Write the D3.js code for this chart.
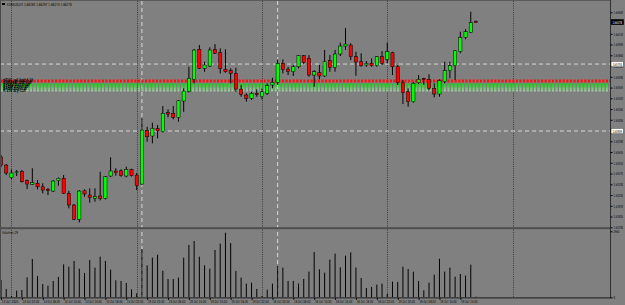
<!DOCTYPE html>
<html><head><meta charset="utf-8">
<script src="https://cdn.jsdelivr.net/npm/d3@7"></script>
<style>
body{margin:0;background:#808080;overflow:hidden}
svg{display:block}
text{font-family:"DejaVu Sans",Arial,sans-serif;fill:#000}
</style></head>
<body><svg id="c" width="625" height="305"></svg>
<script>
const symbolTitle = "EURAUD,H1";
const opens = [1.64582,1.64482,1.64325,1.64388,1.64398,1.64285,1.64240,1.64252,1.64209,1.64177,1.64155,1.64285,1.64315,1.64127,1.63980,1.63800,1.64159,1.64105,1.64064,1.64093,1.64064,1.64344,1.64407,1.64410,1.64344,1.64428,1.64356,1.64243,1.64913,1.64846,1.64938,1.64900,1.65139,1.65131,1.65081,1.65286,1.65402,1.65558,1.65935,1.65696,1.65725,1.65935,1.65892,1.65684,1.65666,1.65633,1.65436,1.65361,1.65320,1.65382,1.65340,1.65382,1.65487,1.65520,1.65759,1.65687,1.65654,1.65716,1.65855,1.65822,1.65612,1.65641,1.65600,1.65792,1.65709,1.65876,1.65976,1.65989,1.65842,1.65779,1.65738,1.65759,1.65729,1.65842,1.65809,1.65892,1.65716,1.65515,1.65402,1.65277,1.65515,1.65571,1.65558,1.65445,1.65374,1.65528,1.65666,1.65729,1.65905,1.66086,1.66148,1.66284];
const highs = [1.64608,1.64495,1.64425,1.64419,1.64419,1.64300,1.64441,1.64294,1.64252,1.64193,1.64294,1.64325,1.64356,1.64159,1.63992,1.64168,1.64177,1.64189,1.64189,1.64398,1.64344,1.64579,1.64441,1.64428,1.64461,1.64436,1.64382,1.65068,1.64963,1.65013,1.64984,1.65223,1.65181,1.65223,1.65298,1.65445,1.65716,1.65939,1.65989,1.65779,1.65960,1.66001,1.65947,1.65935,1.65696,1.65704,1.65487,1.65382,1.65402,1.65433,1.65445,1.65508,1.65578,1.65809,1.65809,1.65716,1.65738,1.65863,1.65863,1.65863,1.65675,1.65738,1.65926,1.65863,1.65926,1.66018,1.66202,1.66010,1.65905,1.65885,1.65788,1.65822,1.65851,1.65913,1.66018,1.65905,1.65738,1.65550,1.65445,1.65524,1.65612,1.65578,1.65621,1.65508,1.65558,1.65779,1.65779,1.65926,1.66156,1.66186,1.66407,1.66297];
const lows = [1.64457,1.64356,1.64306,1.64344,1.64262,1.64180,1.64231,1.64177,1.64127,1.64105,1.64143,1.64222,1.64118,1.63938,1.63791,1.63762,1.64084,1.64009,1.64021,1.64038,1.64049,1.64331,1.64348,1.64335,1.64329,1.64338,1.64168,1.64231,1.64775,1.64754,1.64817,1.64890,1.65081,1.65056,1.65026,1.65151,1.65392,1.65508,1.65687,1.65654,1.65713,1.65876,1.65633,1.65641,1.65508,1.65402,1.65340,1.65277,1.65298,1.65340,1.65307,1.65361,1.65445,1.65487,1.65633,1.65612,1.65600,1.65696,1.65747,1.65591,1.65465,1.65558,1.65587,1.65654,1.65654,1.65851,1.65926,1.65800,1.65603,1.65716,1.65716,1.65716,1.65716,1.65738,1.65759,1.65612,1.65487,1.65248,1.65214,1.65264,1.65499,1.65487,1.65424,1.65332,1.65340,1.65508,1.65571,1.65549,1.65885,1.66061,1.66140,1.66274];
const closes = [1.64482,1.64382,1.64382,1.64397,1.64272,1.64243,1.64260,1.64209,1.64168,1.64162,1.64281,1.64315,1.64127,1.63980,1.63800,1.64155,1.64118,1.64076,1.64084,1.64064,1.64335,1.64407,1.64388,1.64348,1.64428,1.64348,1.64222,1.64921,1.64837,1.64943,1.64913,1.65131,1.65122,1.65081,1.65289,1.65411,1.65571,1.65926,1.65696,1.65738,1.65926,1.65885,1.65696,1.65654,1.65633,1.65436,1.65370,1.65320,1.65382,1.65370,1.65402,1.65478,1.65520,1.65759,1.65684,1.65654,1.65716,1.65855,1.65772,1.65612,1.65654,1.65600,1.65779,1.65709,1.65876,1.65976,1.66001,1.65842,1.65775,1.65729,1.65759,1.65729,1.65842,1.65759,1.65905,1.65716,1.65520,1.65390,1.65277,1.65508,1.65558,1.65556,1.65445,1.65374,1.65541,1.65666,1.65729,1.65917,1.66081,1.66156,1.66269,1.66278];
const volumes = [754,363,58,290,319,870,1668,928,580,508,711,885,1436,1334,1581,1247,1059,1624,1291,1769,1581,1204,740,711,624,348,174,2103,1392,1726,1856,1160,798,798,856,1726,2277,2451,1769,1392,1247,2059,2335,2813,2364,1146,856,595,638,363,58,334,595,1363,1291,711,711,595,798,1117,1972,1218,1073,1639,1900,1305,1813,1958,1291,841,406,450,551,595,160,682,667,1334,1233,1117,711,305,638,986,1682,1117,1291,899,1015,943,1421,29];
const timeTickBars = [0,4,8,12,16,20,24,28,32,36,40,44,48,52,56,60,64,68,72,76,80,84,88];
const timeLabels = ["13 Oct 2020","14 Oct 02:00","14 Oct 06:00","14 Oct 10:00","14 Oct 14:00","14 Oct 18:00","14 Oct 22:00","15 Oct 02:00","15 Oct 06:00","15 Oct 10:00","15 Oct 14:00","15 Oct 18:00","15 Oct 22:00","16 Oct 02:00","16 Oct 06:00","16 Oct 10:00","16 Oct 14:00","16 Oct 18:00","16 Oct 22:00","19 Oct 02:00","19 Oct 06:00","19 Oct 10:00","19 Oct 14:00"];
const priceTicks = [1.63700,1.63835,1.63970,1.64105,1.64240,1.64375,1.64510,1.64645,1.64780,1.64915,1.65050,1.65185,1.65320,1.65455,1.65590,1.65725,1.65860,1.65995,1.66130,1.66265,1.66400];
const volumeTicks = [2960, 0];
const daySeparatorBars = [2,26,50,74,98];
const markerBars = [27,53];
const hLinePrices = [1.65750,1.64909];
const redLevels = [1.65546,1.65527];
const greenLevels = [1.65493,1.65468,1.65443,1.65418];
const levelNames = ["#7101 sell limit 0.10","#7102 sell limit 0.10","#7103 buy 0.10","#7104 buy 0.10","#7105 buy 0.10","#7106 buy 0.10"];
const volumeTitle = "Volumes 29";

const svg = d3.select("#c");
const W = 625, H = 305, AX = 610;
const idx = d3.range(opens.length);
const x = d3.scaleLinear().domain([0, 91]).range([1, 476]);
const y = d3.scaleLinear().domain([1.637, 1.664]).range([227.3, 12.3]);
const yv = d3.scaleLinear().domain([0, 2960]).range([297.3, 229.3]);
const f5 = d3.format(".5f");

// squeeze text horizontally to a target width (small, condensed chart-terminal text)
function fit(sel, target) {
  sel.each(function(d, i) {
    const w = this.getComputedTextLength();
    const t = typeof target === "function" ? target(d, i) : target;
    if (!w) return;
    const s = t / w;
    const x0 = +this.getAttribute("x") || 0;
    this.setAttribute("x", x0 / s);
    this.setAttribute("transform", `scale(${s},1)`);
  });
}

svg.append("rect").attr("width", W).attr("height", H).attr("fill", "#808080");

svg.append("g").selectAll("line").data(daySeparatorBars).join("line")
  .attr("x1", d => Math.round(x(d)) + 0.5).attr("x2", d => Math.round(x(d)) + 0.5)
  .attr("y1", 1).attr("y2", 297).attr("stroke", "#3a3a3a").attr("stroke-width", 1)
  .attr("stroke-dasharray", "1,1.2");

svg.append("g").selectAll("line").data(markerBars).join("line")
  .attr("x1", d => x(d)).attr("x2", d => x(d))
  .attr("y1", 1).attr("y2", 297).attr("stroke", "#d8d8d8").attr("stroke-width", 1)
  .attr("stroke-dasharray", "4,3");

svg.append("g").selectAll("line").data(hLinePrices).join("line")
  .attr("x1", 0).attr("x2", AX).attr("y1", d => y(d)).attr("y2", d => y(d))
  .attr("stroke", "#d8d8d8").attr("stroke-width", 1).attr("stroke-dasharray", "4,3");

svg.append("g").selectAll("line").data(redLevels).join("line")
  .attr("x1", 1).attr("x2", AX).attr("y1", d => y(d)).attr("y2", d => y(d))
  .attr("stroke", "#ff1010").attr("stroke-width", 1.4).attr("stroke-dasharray", "2.2,1.4");
const gCols = ["#10e010", "#30dd30", "#70d070", "#98cc98"];
svg.append("g").selectAll("line").data(greenLevels).join("line")
  .attr("x1", 1).attr("x2", AX).attr("y1", d => y(d)).attr("y2", d => y(d))
  .attr("stroke", (d, i) => gCols[i]).attr("stroke-width", 2.2).attr("stroke-dasharray", "2.2,1.4");

const cg = svg.append("g");
cg.selectAll("line").data(idx).join("line")
  .attr("x1", i => x(i)).attr("x2", i => x(i))
  .attr("y1", i => y(highs[i])).attr("y2", i => y(lows[i]))
  .attr("stroke", "#000").attr("stroke-width", 1);
cg.selectAll("rect").data(idx).join("rect")
  .attr("x", i => x(i) - 1.6).attr("width", 3.2)
  .attr("y", i => y(Math.max(opens[i], closes[i])))
  .attr("height", i => Math.max(0.8, Math.abs(y(opens[i]) - y(closes[i]))))
  .attr("fill", i => closes[i] >= opens[i] ? "#00ff00" : "#ff0000")
  .attr("stroke", "#000").attr("stroke-width", 0.5);

// order-level labels: piled up at the left edge as in the terminal screenshot
const lvl = svg.append("g").selectAll("text").data(levelNames).join("text")
  .attr("x", 3).attr("y", (d, i) => y(redLevels.concat(greenLevels)[i]) + 1.8)
  .attr("font-size", 5).attr("font-weight", "bold").text(d => d);
fit(lvl, (d, i) => 30 - i * 1.5);

svg.append("g").selectAll("line").data(idx).join("line")
  .attr("x1", i => x(i)).attr("x2", i => x(i))
  .attr("y1", yv(0)).attr("y2", i => yv(volumes[i]))
  .attr("stroke", "#000").attr("stroke-width", 1);

svg.append("line").attr("x1", 0.5).attr("x2", 0.5).attr("y1", 0).attr("y2", 298).attr("stroke", "#4a4a4a");
svg.append("line").attr("x1", 0).attr("x2", AX).attr("y1", 0.5).attr("y2", 0.5).attr("stroke", "#5a5a5a");
svg.append("rect").attr("x", 0).attr("y", 227.2).attr("width", AX).attr("height", 2).attr("fill", "#4e4e4e");
svg.append("line").attr("x1", 0).attr("x2", AX + 1).attr("y1", 297.8).attr("y2", 297.8).attr("stroke", "#2e2e2e").attr("stroke-width", 1.2);

const pa = svg.append("g").attr("transform", `translate(${AX + 0.5},0)`)
  .call(d3.axisRight(y).tickValues(priceTicks).tickSize(2).tickPadding(1).tickFormat(f5));
pa.select(".domain").attr("stroke", "#2e2e2e").attr("d", "M0,0V298");
pa.selectAll(".tick line").attr("stroke", "#000");
pa.selectAll("text").attr("font-size", 4.1).attr("fill", "#000");
fit(pa.selectAll("text"), 9.6);

const va = svg.append("g").attr("transform", `translate(${AX + 0.5},0)`)
  .call(d3.axisRight(yv).tickValues(volumeTicks).tickSize(2).tickPadding(1).tickFormat(d3.format("d")));
va.select(".domain").remove();
va.selectAll("text").attr("font-size", 4.1).attr("fill", "#000");
fit(va.selectAll("text"), d => d === 0 ? 1.6 : 6);
va.selectAll(".tick").filter(d => d === 2960).attr("transform", `translate(0,${yv(2960) + 2.5})`);

const hl = svg.append("g").selectAll("g").data(hLinePrices).join("g")
  .attr("transform", d => `translate(${AX + 1},${y(d)})`);
hl.append("rect").attr("x", 0).attr("y", -2.8).attr("width", 12.6).attr("height", 5.6).attr("fill", "#fff").attr("stroke", "#000").attr("stroke-width", 0.4);
const hlt = hl.append("text").attr("x", 1.4).attr("y", 1.5).attr("font-size", 4.1).text(d => f5(d));
fit(hlt, 9.6);

const last = closes[closes.length - 1];
const cp = svg.append("g").attr("transform", `translate(${AX + 1},${y(last)})`);
cp.append("rect").attr("x", 0).attr("y", -2.8).attr("width", 12.8).attr("height", 5.6).attr("fill", "#000");
const cpt = cp.append("text").attr("x", 1.4).attr("y", 1.5).attr("font-size", 4.1).style("fill", "#fff").text(f5(last));
fit(cpt, 9.6);

const ta = svg.append("g").attr("transform", "translate(0,297.8)")
  .call(d3.axisBottom(x).tickValues(timeTickBars).tickSize(2).tickFormat((d, i) => timeLabels[i]));
ta.select(".domain").remove();
ta.selectAll(".tick line").attr("stroke", "#000");
ta.selectAll("text").attr("text-anchor", "start").attr("x", 0.3).attr("y", 2.2).attr("dy", "0.71em")
  .attr("font-size", 4).attr("fill", "#000");
fit(ta.selectAll("text"), 16.5);

const li = closes.length - 1;
svg.append("rect").attr("x", 2).attr("y", 3).attr("width", 3).attr("height", 2).attr("fill", "#000");
const tt = svg.append("text").attr("x", 7).attr("y", 5.8).attr("font-size", 4.3)
  .text(`${symbolTitle}  ${f5(opens[li])} ${f5(highs[li])} ${f5(lows[li])} ${f5(closes[li])}`);
fit(tt, 65);
const vt = svg.append("text").attr("x", 2).attr("y", 234).attr("font-size", 4.2).text(volumeTitle);
fit(vt, 16);
</script>
</body></html>
